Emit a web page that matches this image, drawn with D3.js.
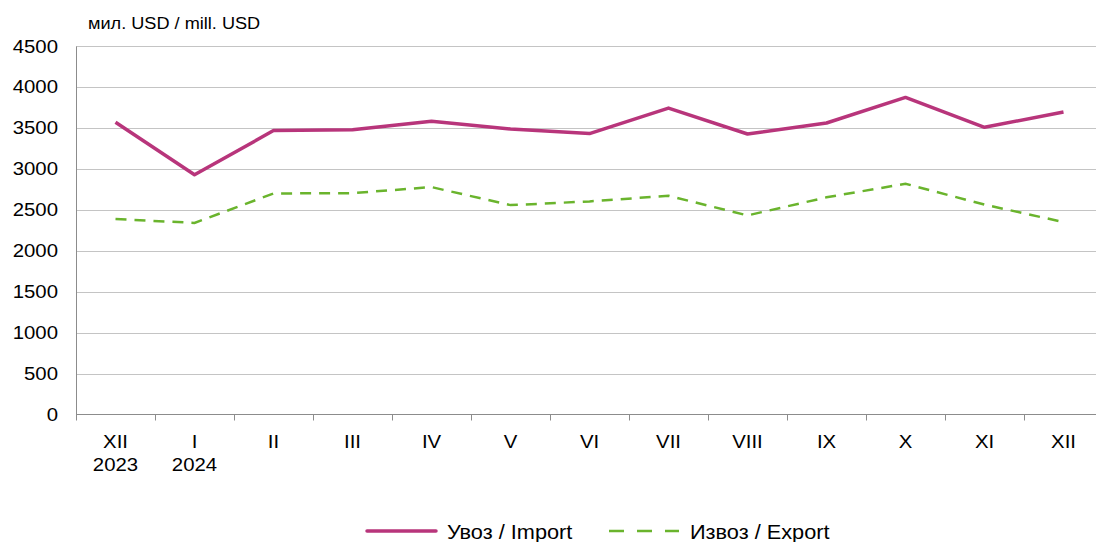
<!DOCTYPE html>
<html>
<head>
<meta charset="utf-8">
<script src="https://cdnjs.cloudflare.com/ajax/libs/d3/7.8.5/d3.min.js"></script>
<style>
  body { margin: 0; background: #fff; }
  svg text { font-family: "Liberation Sans", Arial, sans-serif; fill: #000; }
</style>
</head>
<body>
<div id="chart"></div>
<script>
// Data
var months = ["XII", "I", "II", "III", "IV", "V", "VI", "VII", "VIII", "IX", "X", "XI", "XII"];
var years = ["2023", "2024", "", "", "", "", "", "", "", "", "", "", ""];
var importValues = [3568, 2927, 3467, 3478, 3580, 3486, 3430, 3742, 3425, 3560, 3872, 3507, 3695];
var exportValues = [2387, 2340, 2699, 2703, 2777, 2557, 2602, 2671, 2431, 2652, 2818, 2563, 2350];
var yTicks = [0, 500, 1000, 1500, 2000, 2500, 3000, 3500, 4000, 4500];

var svgWidth = 1096;
var svgHeight = 542;
var margin = { top: 46, left: 76, bottom: 127.5 };
var height = svgHeight - margin.top - margin.bottom;
var width = 79 * months.length;

// text in the original is a bit wider than Liberation Sans
var stretch = 1.1;

var svg = d3.select("#chart")
  .append("svg")
  .attr("width", svgWidth)
  .attr("height", svgHeight);

var chartGroup = svg.append("g")
  .attr("transform", `translate(${margin.left}, ${margin.top})`);

var idx = d3.range(months.length);

var xScale = d3.scaleBand()
  .domain(idx)
  .range([0, width]);

var yScale = d3.scaleLinear()
  .domain([0, 4500])
  .range([height, 0]);

// gridlines
chartGroup.selectAll(".grid")
  .data(yTicks.filter(d => d > 0))
  .enter()
  .append("line")
  .attr("x1", 0)
  .attr("x2", width)
  .attr("y1", d => Math.round(yScale(d)) + 0.5)
  .attr("y2", d => Math.round(yScale(d)) + 0.5)
  .attr("stroke", "#c4c4c4")
  .attr("stroke-width", 1);

// y axis line + labels
var yAxis = chartGroup.append("g")
  .call(d3.axisLeft(yScale).tickValues(yTicks).tickSize(0).tickFormat(""));
yAxis.select(".domain").attr("stroke", "#8c8c8c");

chartGroup.selectAll(".ylab")
  .data(yTicks)
  .enter()
  .append("text")
  .attr("transform", d => `translate(-18, ${yScale(d) + 6.5}) scale(${stretch},1)`)
  .attr("text-anchor", "end")
  .style("font-size", "18.5px")
  .text(d3.format("d"));

// x axis with tick marks at band edges
var xAxis = chartGroup.append("g")
  .attr("transform", `translate(0, ${height})`);
xAxis.append("line")
  .attr("x1", 0).attr("x2", width)
  .attr("y1", 0).attr("y2", 0)
  .attr("stroke", "#8c8c8c");
xAxis.selectAll(".tick")
  .data(idx.concat([months.length]))
  .enter()
  .append("line")
  .attr("x1", d => d * xScale.bandwidth() + 0.5)
  .attr("x2", d => d * xScale.bandwidth() + 0.5)
  .attr("y1", 0)
  .attr("y2", 6)
  .attr("stroke", "#8c8c8c");

xAxis.selectAll(".month")
  .data(idx)
  .enter()
  .append("text")
  .attr("transform", d => `translate(${xScale(d) + xScale.bandwidth() / 2}, 33) scale(${stretch},1)`)
  .attr("text-anchor", "middle")
  .style("font-size", "18.5px")
  .text(d => months[d]);

xAxis.selectAll(".year")
  .data(idx.filter(d => years[d]))
  .enter()
  .append("text")
  .attr("transform", d => `translate(${xScale(d) + xScale.bandwidth() / 2}, 56) scale(${stretch},1)`)
  .attr("text-anchor", "middle")
  .style("font-size", "18.5px")
  .text(d => years[d]);

// lines
var line = function (values) {
  return d3.line()
    .x(d => xScale(d) + xScale.bandwidth() / 2)
    .y(d => yScale(values[d]))(idx);
};

chartGroup.append("path")
  .attr("d", line(exportValues))
  .attr("fill", "none")
  .attr("stroke", "#6ab42d")
  .attr("stroke-width", 2.5)
  .attr("stroke-dasharray", "11,8");

chartGroup.append("path")
  .attr("d", line(importValues))
  .attr("fill", "none")
  .attr("stroke", "#b8357b")
  .attr("stroke-width", 3.5)
  .attr("stroke-linejoin", "round");

// unit label
svg.append("text")
  .attr("transform", `translate(88, 29) scale(${stretch},1)`)
  .style("font-size", "16.5px")
  .text("мил. USD / mill. USD");

// legend
var legend = svg.append("g");
legend.append("line")
  .attr("x1", 367).attr("x2", 436)
  .attr("y1", 531).attr("y2", 531)
  .attr("stroke", "#b8357b")
  .attr("stroke-width", 3.5)
  .attr("stroke-linecap", "round");
legend.append("text")
  .attr("transform", "translate(447, 539) scale(1.06,1)")
  .style("font-size", "20.5px")
  .text("Увоз / Import");
legend.append("line")
  .attr("x1", 609).attr("x2", 679)
  .attr("y1", 531).attr("y2", 531)
  .attr("stroke", "#6ab42d")
  .attr("stroke-width", 2.5)
  .attr("stroke-dasharray", "15,13");
legend.append("text")
  .attr("transform", "translate(690, 539) scale(1.06,1)")
  .style("font-size", "20.5px")
  .text("Извоз / Export");
</script>
</body>
</html>
